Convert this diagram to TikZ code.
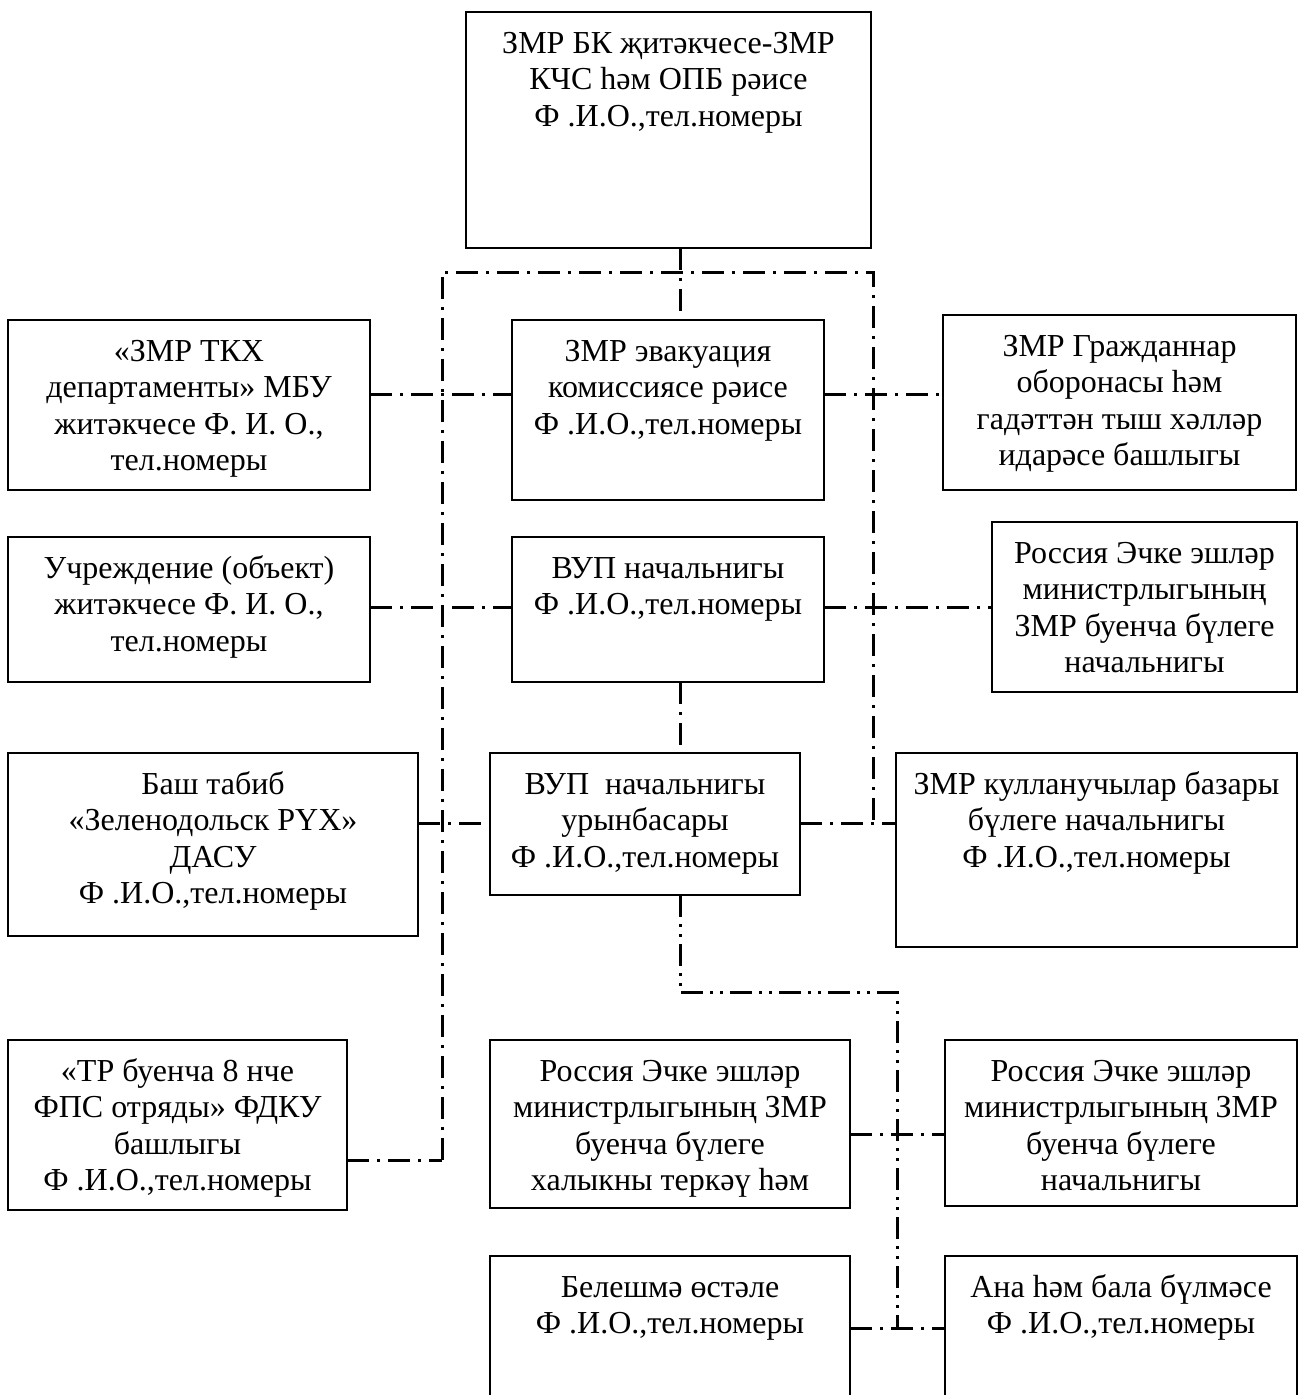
\documentclass[tikz,border=0pt]{standalone}
\usepackage{fontspec}
\setmainfont{Liberation Serif}
\newcommand{\bx}[3]{\parbox[c][#2pt][t]{#1pt}{\centering\rule{0pt}{41pt}#3}}
\begin{document}
\begin{tikzpicture}[x=1pt,y=-1pt,
  box/.style={draw, line width=2.3pt, inner sep=0pt, outer sep=0pt, anchor=north west,
    font=\fontsize{32}{36.5}\selectfont},
  dd/.style={line width=3pt, dash pattern=on 22pt off 8pt on 3pt off 8pt},
  ddd/.style={line width=3pt, dash pattern=on 22pt off 7pt on 3pt off 7pt on 3pt off 7pt}]
\useasboundingbox (0,0) rectangle (1298,1395);
\fill[white] (0,0) rectangle (1298,1395);

\node[box] (T) at (466,12) {\bx{405}{236}{ЗМР БК җитәкчесе-ЗМР\\КЧС һәм ОПБ рәисе\\Ф .И.О.,тел.номеры}};
\node[box] (C1) at (512,320) {\bx{312}{180}{ЗМР эвакуация\\комиссиясе рәисе\\Ф .И.О.,тел.номеры}};
\node[box] (C2) at (512,537) {\bx{312}{145}{ВУП начальнигы\\Ф .И.О.,тел.номеры}};
\node[box] (C3) at (490,753) {\bx{310}{142}{ВУП\ \ начальнигы\\урынбасары\\Ф .И.О.,тел.номеры}};
\node[box] (C4) at (490,1040) {\bx{360}{168}{Россия Эчке эшләр\\министрлыгының ЗМР\\буенча бүлеге\\халыкны теркәү һәм}};
\node[box] (C5) at (490,1256) {\bx{360}{160}{Белешмә өстәле\\Ф .И.О.,тел.номеры}};

\node[box] (L1) at (8,320) {\bx{362}{170}{«ЗМР ТКХ\\департаменты» МБУ\\житәкчесе Ф. И. О.,\\тел.номеры}};
\node[box] (L2) at (8,537) {\bx{362}{145}{Учреждение (объект)\\житәкчесе Ф. И. О.,\\тел.номеры}};
\node[box] (L3) at (8,753) {\bx{410}{183}{Баш табиб\\«Зеленодольск РҮХ»\\ДАСУ\\Ф .И.О.,тел.номеры}};
\node[box] (L4) at (8,1040) {\bx{339}{170}{«ТР буенча 8 нче\\ФПС отряды» ФДКУ\\башлыгы\\Ф .И.О.,тел.номеры}};

\node[box] (R1) at (943,315) {\bx{353}{175}{ЗМР Гражданнар\\оборонасы һәм\\гадәттән тыш хәлләр\\идарәсе башлыгы}};
\node[box] (R2) at (992,522) {\bx{305}{170}{Россия Эчке эшләр\\министрлыгының\\ЗМР буенча бүлеге\\начальнигы}};
\node[box] (R3) at (896,753) {\bx{401}{194}{ЗМР кулланучылар базары\\бүлеге начальнигы\\Ф .И.О.,тел.номеры}};
\node[box] (R4) at (945,1040) {\bx{352}{166}{Россия Эчке эшләр\\министрлыгының ЗМР\\буенча бүлеге\\начальнигы}};
\node[box] (R5) at (945,1256) {\bx{352}{160}{Ана һәм бала бүлмәсе\\Ф .И.О.,тел.номеры}};

% helper coordinates
\coordinate (cx) at (680,0);
\coordinate (bx) at (897,0);
\coordinate (busL) at (442,272);
\coordinate (busR) at (873,272);
\coordinate (busLend) at (442,1160);
\coordinate (busRend) at (873,823);
\coordinate (y1) at (0,394);
\coordinate (y2) at (0,607);
\coordinate (y3) at (0,823);
\coordinate (y4) at (0,1160);
\coordinate (y5) at (0,1134);
\coordinate (y6) at (0,1328);
\coordinate (yb) at (0,992);

% connectors
\draw[dd] (T.south -| cx) -- (C1.north -| cx);
\draw[dd] (busLend) -- (busL) -- (busR) -- (busRend);
\draw[dd] (L1.east |- y1) -- (C1.west |- y1);
\draw[dd] (C1.east |- y1) -- (R1.west |- y1);
\draw[dd] (L2.east |- y2) -- (C2.west |- y2);
\draw[dd] (C2.east |- y2) -- (R2.west |- y2);
\draw[dd] (C2.south -| cx) -- (C3.north -| cx);
\draw[dd] (L3.east |- y3) -- (C3.west |- y3);
\draw[dd] (C3.east |- y3) -- (R3.west |- y3);
\draw[dd] (L4.east |- y4) -- (busLend);
\draw[ddd] (C3.south -| cx) -- (cx |- yb) -- (bx |- yb) -- (bx |- y6);
\draw[dd] (C4.east |- y5) -- (R4.west |- y5);
\draw[dd] (C5.east |- y6) -- (R5.west |- y6);
\end{tikzpicture}
\end{document}
